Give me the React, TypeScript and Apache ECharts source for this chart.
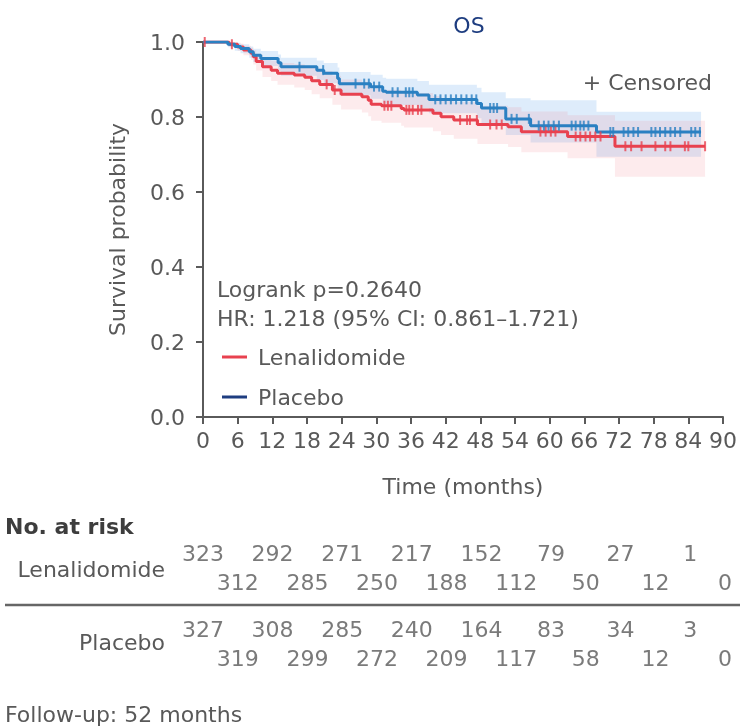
import React, { useEffect, useRef } from "react";
import * as echarts from "echarts";

const FONT = '"DejaVu Sans", "Noto Sans", sans-serif';
const TEXT = "#595959";
const AXIS = "#5a5a5a";
const RED = "#e8414f";
const BLUE = "#2b80c2";
const NAVY = "#1e3d80";

// Kaplan–Meier step curves (time in months, survival probability, 95% CI bounds)
const lenTimes = [0, 4.5, 6.0, 7.0, 8.3, 8.7, 9.2, 10.3, 11.8, 12.9, 15.8, 17.6, 18.8, 20.2, 22.4, 23.9, 27.5, 28.6, 29.1, 30.9, 34.3, 34.8, 39.8, 41.2, 43.4, 47.5, 52.8, 55.1, 63.1, 71.3, 86.9];
const lenSurv = [1.0, 0.994, 0.987, 0.979, 0.97, 0.961, 0.948, 0.934, 0.925, 0.917, 0.912, 0.906, 0.897, 0.887, 0.872, 0.861, 0.854, 0.845, 0.834, 0.83, 0.823, 0.819, 0.81, 0.801, 0.792, 0.78, 0.774, 0.761, 0.748, 0.722, 0.722];
const lenCiLow = [1, 0.988, 0.977, 0.965, 0.952, 0.94, 0.924, 0.907, 0.896, 0.886, 0.879, 0.872, 0.861, 0.85, 0.833, 0.82, 0.812, 0.802, 0.79, 0.785, 0.777, 0.772, 0.762, 0.752, 0.742, 0.728, 0.72, 0.706, 0.69, 0.641, 0.641];
const lenCiHigh = [1, 1, 0.996, 0.99, 0.985, 0.978, 0.968, 0.957, 0.95, 0.944, 0.941, 0.936, 0.93, 0.922, 0.91, 0.9, 0.894, 0.886, 0.876, 0.873, 0.867, 0.864, 0.856, 0.848, 0.84, 0.83, 0.826, 0.815, 0.805, 0.79, 0.79];

const plaTimes = [0, 4.3, 5.5, 6.5, 8.0, 8.7, 10.0, 13.0, 13.5, 19.7, 20.9, 23.3, 23.6, 29.0, 31.1, 31.7, 37.1, 39.1, 47.4, 48.2, 52.4, 56.7, 68.1, 86.2];
const plaSurv = [1.0, 0.994, 0.988, 0.983, 0.974, 0.965, 0.956, 0.945, 0.934, 0.925, 0.917, 0.903, 0.889, 0.881, 0.869, 0.866, 0.859, 0.847, 0.836, 0.824, 0.795, 0.777, 0.76, 0.76];
const plaCiLow = [1, 0.986, 0.977, 0.97, 0.958, 0.947, 0.936, 0.922, 0.91, 0.899, 0.89, 0.874, 0.858, 0.849, 0.836, 0.832, 0.824, 0.81, 0.797, 0.784, 0.752, 0.732, 0.694, 0.694];
const plaCiHigh = [1, 1, 0.998, 0.994, 0.988, 0.982, 0.976, 0.967, 0.958, 0.951, 0.944, 0.932, 0.92, 0.913, 0.905, 0.902, 0.896, 0.886, 0.878, 0.866, 0.85, 0.845, 0.814, 0.814];

// Censoring times
const lenCensor = [0.3, 5, 21.4, 22.8, 31.4, 32, 32.6, 35.2, 35.7, 36.3, 37.2, 37.8, 44.5, 45.7, 46.2, 47.4, 49.7, 50.8, 51.7, 58.4, 59.3, 60.2, 61, 64.5, 65.3, 66.2, 67, 67.9, 68.8, 73.1, 74.1, 75.9, 78.3, 80, 80.9, 83.4, 84, 86.9];
const plaCensor = [16.7, 20.8, 26.4, 27.9, 28.7, 29.6, 30.5, 32.8, 33.7, 35.1, 35.7, 36.3, 40.2, 41.1, 42, 42.9, 43.8, 44.7, 45.6, 46.5, 47.3, 49.7, 50.3, 50.9, 53.4, 54.3, 56.4, 58.1, 59, 59.8, 60.7, 61.6, 63.8, 64.5, 65.3, 65.9, 66.7, 70.5, 71, 72.8, 73.6, 74.5, 75.3, 77.6, 78.3, 79.1, 80, 80.9, 81.7, 82.6, 84.5, 85.2, 86.0];

// Number at risk
const riskMonths = [0, 6, 12, 18, 24, 30, 36, 42, 48, 54, 60, 66, 72, 78, 84, 90];
const lenRisk = [323, 312, 292, 285, 271, 250, 217, 188, 152, 112, 79, 50, 27, 12, 1, 0];
const plaRisk = [327, 319, 308, 299, 285, 272, 240, 209, 164, 117, 83, 58, 34, 12, 3, 0];

const xTicks = { min: 0, max: 90, interval: 6 };
const yTicks = { min: 0, max: 1, interval: 0.2 };

function survAt(times: number[], surv: number[], t: number) {
  let s = surv[0];
  for (let i = 0; i < times.length; i++) if (times[i] <= t) s = surv[i];
  return s;
}

function bandSeries(times: number[], lo: number[], hi: number[], fill: string) {
  return {
    type: "custom",
    silent: true,
    xAxisIndex: 0,
    yAxisIndex: 0,
    clip: true,
    data: times.map((t, i) => [t, lo[i], hi[i]]),
    encode: { x: 0, y: [1, 2] },
    renderItem: (params: any, api: any) => {
      if (params.dataIndex !== 0) return { type: "group", children: [] };
      const pts: number[][] = [];
      for (let i = 0; i < times.length - 1; i++) {
        pts.push(api.coord([times[i], hi[i]]));
        pts.push(api.coord([times[i + 1], hi[i]]));
      }
      for (let i = times.length - 2; i >= 0; i--) {
        pts.push(api.coord([times[i + 1], lo[i]]));
        pts.push(api.coord([times[i], lo[i]]));
      }
      return { type: "polygon", shape: { points: pts }, style: { fill, stroke: "none" } };
    },
    z: 1,
  };
}

function riskSeries(values: number[], gridIdx: number) {
  return {
    type: "scatter",
    xAxisIndex: gridIdx,
    yAxisIndex: gridIdx,
    symbolSize: 1,
    silent: true,
    itemStyle: { color: "transparent" },
    data: riskMonths.map((m, i) => [m, i % 2, values[i]]),
    label: {
      show: true,
      position: "inside",
      formatter: (p: any) => String(p.value[2]),
      fontFamily: FONT,
      fontSize: 22,
      color: TEXT,
    },
  };
}

export default function App() {
  const ref = useRef<HTMLDivElement>(null);
  useEffect(() => {
    if (!ref.current) return;
    const chart = echarts.init(ref.current, null, { renderer: "svg" });
    const lenLine = lenTimes.map((t, i) => [t, lenSurv[i]]);
    const plaLine = plaTimes.map((t, i) => [t, plaSurv[i]]);
    const hiddenAxis = { type: "value", min: 0, max: 90, show: false };
    chart.setOption({
      animation: false,
      textStyle: { fontFamily: FONT },
      title: {
        text: "OS",
        left: 464,
        top: 9,
        textAlign: "center",
        textStyle: { fontFamily: FONT, fontSize: 22, fontWeight: "normal", color: NAVY },
      },
      grid: [
        { left: 203, right: 15, top: 42, bottom: 309 },
        { left: 203, right: 15, top: 538.5, height: 58 },
        { left: 203, right: 15, top: 614.5, height: 58 },
      ],
      legend: {
        orient: "vertical",
        left: 217,
        top: 341,
        itemWidth: 25,
        itemHeight: 3,
        itemGap: 18,
        icon: "rect",
        selectedMode: false,
        textStyle: { fontFamily: FONT, fontSize: 22, color: TEXT, padding: [0, 0, 0, 6] },
        data: [
          { name: "Lenalidomide", itemStyle: { color: RED } },
          { name: "Placebo", itemStyle: { color: NAVY } },
        ],
      },
      xAxis: [
        {
          type: "value",
          gridIndex: 0,
          ...xTicks,
          name: "Time (months)",
          nameLocation: "middle",
          nameGap: 58,
          nameTextStyle: { fontFamily: FONT, fontSize: 22, color: TEXT },
          axisLine: { show: true, onZero: false, lineStyle: { color: AXIS, width: 2 } },
          axisTick: { show: true, length: 7, lineStyle: { color: AXIS, width: 2 } },
          axisLabel: { fontFamily: FONT, fontSize: 22, color: TEXT, margin: 12 },
          splitLine: { show: false },
        },
        { ...hiddenAxis, gridIndex: 1 },
        { ...hiddenAxis, gridIndex: 2 },
      ],
      yAxis: [
        {
          type: "value",
          gridIndex: 0,
          ...yTicks,
          name: "Survival probability",
          nameLocation: "middle",
          nameGap: 75,
          nameTextStyle: { fontFamily: FONT, fontSize: 22, color: TEXT },
          axisLine: { show: true, lineStyle: { color: AXIS, width: 2 } },
          axisTick: { show: true, length: 7, lineStyle: { color: AXIS, width: 2 } },
          axisLabel: { fontFamily: FONT, fontSize: 22, color: TEXT, margin: 18, formatter: (v: number) => v.toFixed(1) },
          splitLine: { show: false },
        },
        { type: "category", gridIndex: 1, data: ["r1", "r2"], inverse: true, show: false },
        { type: "category", gridIndex: 2, data: ["r1", "r2"], inverse: true, show: false },
      ],
      series: [
        bandSeries(plaTimes, plaCiLow, plaCiHigh, "rgba(60,140,230,0.17)"),
        bandSeries(lenTimes, lenCiLow, lenCiHigh, "rgba(240,90,110,0.12)"),
        {
          name: "Lenalidomide",
          type: "line",
          step: "end",
          data: lenLine,
          showSymbol: false,
          symbol: "none",
          lineStyle: { color: RED, width: 3 },
          itemStyle: { color: RED },
          z: 3,
        },
        {
          name: "Placebo",
          type: "line",
          step: "end",
          data: plaLine,
          showSymbol: false,
          symbol: "none",
          lineStyle: { color: BLUE, width: 3 },
          itemStyle: { color: BLUE },
          z: 4,
        },
        {
          name: "Lenalidomide censored",
          type: "scatter",
          symbol: "rect",
          symbolSize: [2, 10],
          itemStyle: { color: RED },
          data: lenCensor.map((t) => [t, survAt(lenTimes, lenSurv, t)]),
          z: 5,
          silent: true,
        },
        {
          name: "Placebo censored",
          type: "scatter",
          symbol: "rect",
          symbolSize: [2, 10],
          itemStyle: { color: BLUE },
          data: plaCensor.map((t) => [t, survAt(plaTimes, plaSurv, t)]),
          z: 6,
          silent: true,
        },
        riskSeries(lenRisk, 1),
        riskSeries(plaRisk, 2),
      ],
      graphic: [
        { type: "text", right: 28, top: 71, style: { text: "+ Censored", font: `22px ${FONT}`, fill: TEXT } },
        { type: "text", left: 217, top: 278, style: { text: "Logrank p=0.2640", font: `22px ${FONT}`, fill: TEXT } },
        { type: "text", left: 217, top: 307, style: { text: "HR: 1.218 (95% CI: 0.861\u20131.721)", font: `22px ${FONT}`, fill: TEXT } },
        { type: "text", left: 5, top: 515, style: { text: "No. at risk", font: `bold 22px ${FONT}`, fill: "#3d3d3d" } },
        { type: "text", right: 575, top: 558, style: { text: "Lenalidomide", font: `22px ${FONT}`, fill: TEXT } },
        { type: "text", right: 575, top: 631, style: { text: "Placebo", font: `22px ${FONT}`, fill: TEXT } },
        { type: "line", shape: { x1: 5, y1: 605, x2: 740, y2: 605 }, style: { stroke: "#666", lineWidth: 2.5 } },
        { type: "text", left: 5, top: 703, style: { text: "Follow-up: 52 months", font: `22px ${FONT}`, fill: TEXT } },
      ],
    });
    return () => chart.dispose();
  }, []);
  return <div ref={ref} style={{ position: "fixed", left: 0, top: 0, width: 740, height: 726 }} />;
}
